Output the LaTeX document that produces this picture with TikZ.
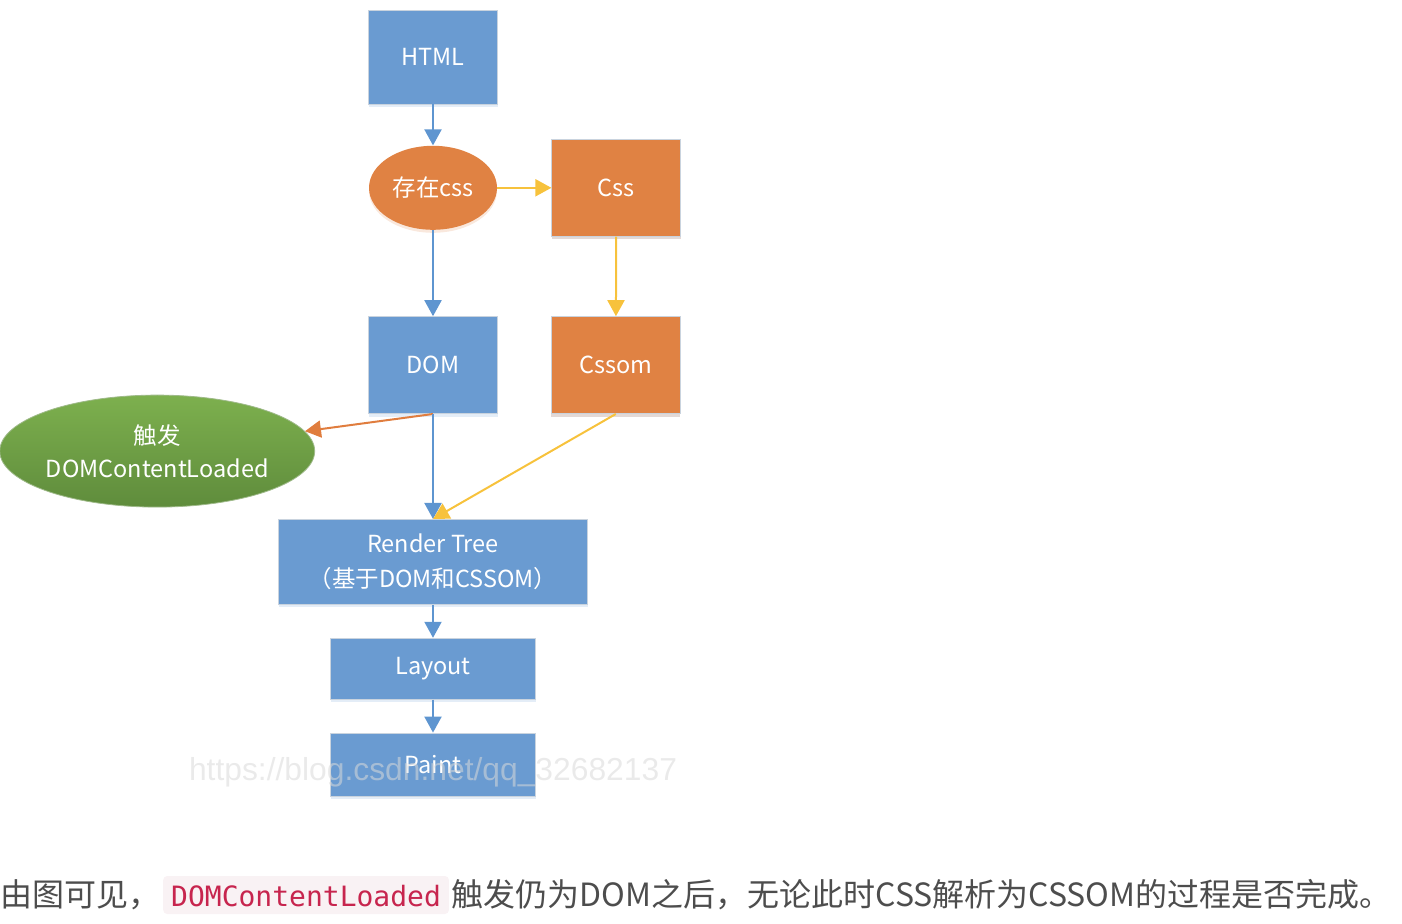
\documentclass[tikz,border=0pt]{standalone}
\usepackage{fontspec}
\setmainfont{Noto Sans CJK SC}
\setmonofont{DejaVu Sans Mono}
\newfontfamily\markfont{Liberation Sans}
\usetikzlibrary{shapes.geometric, positioning, arrows.meta, shadows}
\definecolor{boxblue}{HTML}{6A9BD1}
\definecolor{boxorange}{HTML}{E08243}
\definecolor{greenlight}{HTML}{7DB04E}
\definecolor{greendark}{HTML}{5F8C3C}
\definecolor{arrowblue}{HTML}{5E95D0}
\definecolor{arrowyellow}{HTML}{F7C23C}
\definecolor{arroworange}{HTML}{E07D3E}
\definecolor{edgegray}{HTML}{C9D3DE}
\definecolor{notetext}{HTML}{4D4D4D}
\definecolor{codebg}{HTML}{F9F2F4}
\definecolor{codetext}{HTML}{C7254E}

\begin{document}
\begin{tikzpicture}[
    x=0.5pt, y=-0.5pt,
    font=\fontsize{11.75pt}{14pt}\selectfont,
    stage/.style={rectangle, draw=edgegray, fill=boxblue, text=white, inner sep=0pt, line width=0.4pt, align=center, drop shadow={shadow xshift=0pt, shadow yshift=-1.5pt, opacity=0.18, fill=boxblue}},
    css_stage/.style={stage, fill=boxorange, drop shadow={shadow xshift=0pt, shadow yshift=-1.5pt, opacity=0.18, fill=boxorange}},
    check/.style={ellipse, fill=boxorange, text=white, inner sep=0pt, minimum width=64pt, minimum height=42pt, drop shadow={shadow xshift=0pt, shadow yshift=-1.5pt, opacity=0.18, fill=boxorange}},
    event/.style={ellipse, top color=greenlight, bottom color=greendark, draw=greendark!60, line width=0.4pt, text=white, inner sep=0pt, minimum width=156.5pt, minimum height=56pt, align=center, font=\fontsize{11.75pt}{16.5pt}\selectfont},
    flow_arrow/.style={-{Triangle[length=8pt, width=8.5pt]}, line width=1pt, draw=arrowblue},
    css_arrow/.style={-{Triangle[length=8pt, width=8.5pt]}, line width=1pt, draw=arrowyellow},
    fire_arrow/.style={-{Triangle[length=8pt, width=8.5pt]}, line width=1pt, draw=arroworange},
    watermark/.style={text=gray!30, opacity=0.55, inner sep=0pt, font=\markfont\fontsize{15.9pt}{16pt}\selectfont},
    note/.style={text=notetext, inner sep=0pt, anchor=base west, font=\fontsize{16pt}{18pt}\selectfont},
    codebox/.style={fill=codebg, text=codetext, rounded corners=2pt, anchor=base west, inner xsep=4pt, inner ysep=2pt, text height=13pt, text depth=2pt, font=\ttfamily\fontsize{14pt}{16pt}\selectfont}
]
    \useasboundingbox (0,0) rectangle (1402,924);

    % Parsing chain
    \node[stage, minimum width=64.5pt, minimum height=47pt] (html) at (433,57) {HTML};
    \node[check, below=20.5pt of html] (hascss) {存在css};
    \node[css_stage, minimum width=64.5pt, minimum height=48.5pt, right=27pt of hascss] (css) {Css};
    \node[stage, minimum width=64.5pt, minimum height=48.5pt, below=43pt of hascss] (dom) {DOM};
    \node[css_stage, minimum width=64.5pt, minimum height=48.5pt, right=26.5pt of dom] (cssom) {Cssom};

    % Event fired after DOM
    \node[event, left=26.5pt of dom, yshift=-43pt] (fired) {触发\\DOMContentLoaded};

    % Rendering
    \node[stage, minimum width=154.5pt, minimum height=42.5pt, below=52.5pt of dom, font=\fontsize{11.75pt}{17.5pt}\selectfont] (render) {Render Tree\\（基于DOM和CSSOM）};
    \node[stage, minimum width=102.5pt, minimum height=30.5pt, below=16.5pt of render] (layout) {Layout};
    \node[stage, minimum width=102.5pt, minimum height=31.5pt, below=16.5pt of layout] (paint) {Paint};

    % Flow arrows
    \draw[flow_arrow] (html) -- (hascss);
    \draw[css_arrow] (hascss) -- (css);
    \draw[css_arrow] (css) -- (cssom);
    \draw[flow_arrow] (hascss) -- (dom);
    \draw[fire_arrow] (dom.south) -- (fired);
    \draw[flow_arrow] (dom) -- (render);
    \draw[css_arrow] (cssom.south) -- (render.north);
    \draw[flow_arrow] (render) -- (layout);
    \draw[flow_arrow] (layout) -- (paint);

    \node[watermark] (mark) at ([yshift=-4pt]paint.center) {https://blog.csdn.net/qq\_32682137};

    % Caption under the figure
    \node[note] (note_a) at (0,906) {由图可见，};
    \node[codebox] (code) at ([xshift=1pt]note_a.base east) {DOMContentLoaded};
    \node[note] (note_b) at ([xshift=1pt]code.base east) {触发仍为DOM之后，无论此时CSS解析为CSSOM的过程是否完成。};
\end{tikzpicture}
\end{document}
